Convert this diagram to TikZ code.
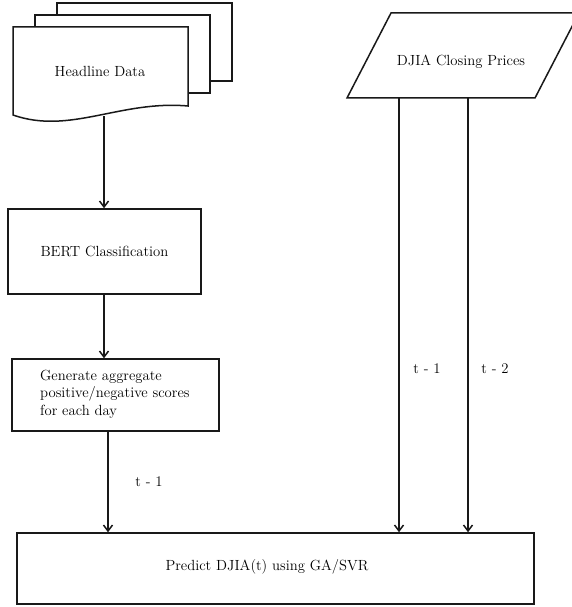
\documentclass[tikz,border=0pt]{standalone}
\usepackage{fontspec}
\usetikzlibrary{arrows.meta}
\tikzset{
  x=1pt, y=-1pt,
  outline/.style={draw=black!90, line width=1.5pt},
  procbox/.style={outline, rectangle, inner sep=0pt},
  txt/.style={inner sep=0pt, font=\fontsize{14.7}{17.6}\selectfont},
  flow/.style={line width=1.5pt, draw=black!90, -{Straight Barb[length=6pt,width=9pt,line width=1.5pt]}}
}
\begin{document}
\begin{tikzpicture}
\useasboundingbox (0,0) rectangle (571,607);

% stacked documents (back pages first)
\draw[outline, fill=white] (57,15) -- (57,3) -- (232,3) -- (232,81) -- (210,81);
\draw[outline, fill=white] (35,27) -- (35,15) -- (210,15) -- (210,93) -- (188,93);
\draw[outline, fill=white] (13,115) -- (13,27) -- (188,27) -- (188,106)
  .. controls (120,100) and (70,135) .. (13,115) -- cycle;
\node[txt] (head) at (100,71) {Headline Data};
\coordinate (headout) at (104,116.5);

% price input (parallelogram)
\draw[outline, fill=white] (391,13) -- (579,13) -- (535,98) -- (347,98) -- cycle;
\node[txt] (djia) at (461,62) {DJIA Closing Prices};
\coordinate (lag1) at (399,98);
\coordinate (lag2) at (468,98);

% processing steps
\node[procbox, minimum width=193pt, minimum height=85pt] (bert) at (104.5,251.5) {};
\node[txt] (berttxt) at (104.5,251.5) {BERT Classification};

\node[procbox, minimum width=207pt, minimum height=72pt] (gen) at (115.5,395) {};
\node[txt, align=left, anchor=west] (gentxt) at (40,394)
  {Generate aggregate\\positive/negative scores\\for each day};

\node[procbox, minimum width=517pt, minimum height=71pt] (pred) at (275.5,568.5) {};
\node[txt] (predtxt) at (267,567) {Predict DJIA(t) using GA/SVR};

% connectors
\draw[flow] (headout) -- (headout |- bert.north);
\draw[flow] (bert.south) ++(-0.5,0) coordinate (bs) -- (bs |- gen.north);
\coordinate (gs) at (108,431);
\draw[flow] (gs) -- (gs |- pred.north);
\draw[flow] (lag1) -- (lag1 |- pred.north);
\draw[flow] (lag2) -- (lag2 |- pred.north);

% lag labels
\node[txt] (l0) at (149,482) {t - 1};
\node[txt] (l1) at (427,369) {t - 1};
\node[txt] (l2) at (495,369) {t - 2};
\end{tikzpicture}
\end{document}
